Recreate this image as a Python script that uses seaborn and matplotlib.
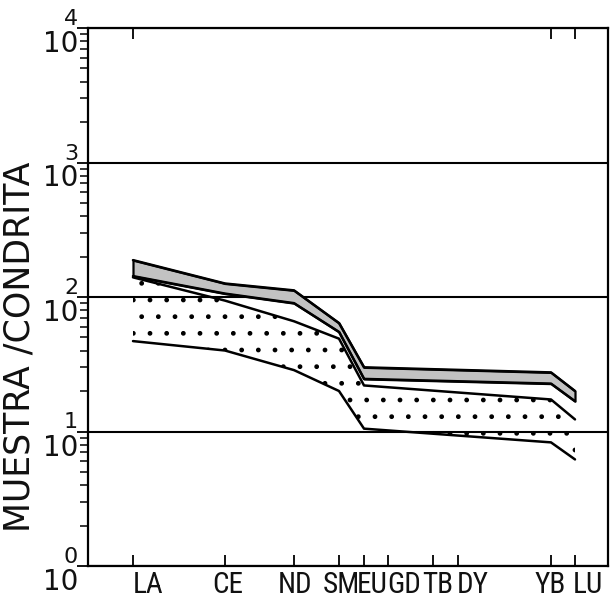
import numpy as np
import pandas as pd
import matplotlib
matplotlib.use("Agg")
import matplotlib.pyplot as plt
import matplotlib.transforms as mtransforms
from matplotlib import font_manager as fm
from matplotlib.ticker import LogLocator, NullFormatter, FixedLocator
import seaborn as sns

# ---------------- data ----------------
elements = ["LA", "CE", "ND", "SM", "EU", "GD", "TB", "DY", "YB", "LU"]
element_pos = [45, 137, 206, 251, 276, 300, 345, 370, 463, 487]   # axis scale
series_elements = ["LA", "CE", "ND", "SM", "EU", "YB", "LU"]
gray_top = [188, 126, 112, 64, 30, 27.5, 20]
gray_bottom = [143, 106, 90, 55, 24.6, 22.7, 16.8]
dot_top = [140, 94, 66, 49, 22, 17.3, 12.3]
dot_bottom = [47, 40, 28.6, 20, 10.5, 8.3, 6.2]
y_exponents = [0, 1, 2, 3, 4]
y_title = "MUESTRA /CONDRITA"
top_tick_elements = ["LA", "YB", "LU"]

# ---------------- layout ----------------
label_pos = [60, 140, 207, 253, 284, 316, 350, 385, 462, 500]

sns.set_style("white")
plt.rcParams["font.family"] = ["DejaVu Sans"]
plt.rcParams["hatch.linewidth"] = 1.0


def has_font(name):
    try:
        fm.findfont(fm.FontProperties(family=name), fallback_to_default=False)
        return True
    except Exception:
        return False


lab_stretch = "normal"
if has_font("Liberation Sans Narrow"):
    lab_family, lab_size = "Liberation Sans Narrow", 21
elif has_font("Roboto Condensed"):
    lab_family, lab_size = "Roboto Condensed", 21
else:
    try:
        p = fm.findfont(fm.FontProperties(family="DejaVu Sans",
                                          stretch="condensed"))
    except Exception:
        p = ""
    if "ondensed" in p:
        lab_family, lab_size, lab_stretch = "DejaVu Sans", 18, "condensed"
    else:
        lab_family, lab_size = "DejaVu Sans", 16

pos = dict(zip(elements, element_pos))
xs = [pos[e] for e in series_elements]

rows = []
for name, vals in [("gray_top", gray_top), ("gray_bottom", gray_bottom),
                   ("dot_top", dot_top), ("dot_bottom", dot_bottom)]:
    for e, v in zip(series_elements, vals):
        rows.append({"series": name, "element": e, "x": pos[e], "value": v})
df = pd.DataFrame(rows)

W, H = 613, 604
fig = plt.figure(figsize=(W / 100, H / 100), dpi=100)
ax_left, ax_right, ax_top, ax_bot = 88, 608, 28, 566
ax = fig.add_axes([ax_left / W, 1 - ax_bot / H, (ax_right - ax_left) / W,
                   (ax_bot - ax_top) / H])

ax.fill_between(xs, gray_bottom, gray_top, facecolor="#c2c2c2",
                edgecolor="black", linewidth=1.6, zorder=2)
ax.fill_between(xs, dot_bottom, dot_top, facecolor="none",
                edgecolor="black", linewidth=0, hatch=".", zorder=1)

sns.lineplot(data=df, x="x", y="value", units="series", estimator=None,
             sort=False, color="black", linewidth=1.8, legend=False, ax=ax,
             zorder=3)

ax.set_yscale("log")
ax.set_ylim(1, 1e4)
ax.set_xlim(0, ax_right - ax_left)
ax.set_xlabel("")
ax.set_ylabel("")

# y ticks
ax.yaxis.set_major_locator(FixedLocator([10.0 ** e for e in y_exponents]))
ax.yaxis.set_minor_locator(LogLocator(base=10, subs=np.arange(2, 10)))
ax.yaxis.set_minor_formatter(NullFormatter())
ax.tick_params(axis="y", which="major", direction="out", length=8, width=1.3,
               left=True, right=False, labelleft=False, color="black")
ax.tick_params(axis="y", which="minor", direction="out", length=6, width=1.1,
               left=True, right=False, color="black")
ax.grid(axis="y", which="major", color="black", linewidth=1.5)
ax.grid(axis="x", visible=False)

# x ticks
ax.set_xticks(element_pos)
ax.tick_params(axis="x", which="both", direction="in", length=8, width=1.3,
               bottom=True, top=False, labelbottom=False, color="black")
sec = ax.secondary_xaxis("top")
sec.set_xticks([pos[e] for e in top_tick_elements])
sec.tick_params(axis="x", direction="in", length=8, width=1.3,
                labeltop=False, color="black")
sec.spines["top"].set_visible(False)

for s in ax.spines.values():
    s.set_visible(True)
    s.set_color("black")
    s.set_linewidth(1.6)

# y tick labels: 10 with exponent
trans = mtransforms.blended_transform_factory(ax.transAxes, ax.transData)
for e in y_exponents:
    v = 10.0 ** e
    ax.annotate("10", xy=(0, v), xycoords=trans, xytext=(-10, -2),
                textcoords="offset pixels", ha="right", va="top",
                fontsize=20, color="#111111", annotation_clip=False)
    ax.annotate(str(e), xy=(0, v), xycoords=trans, xytext=(-24, -1),
                textcoords="offset pixels", ha="left", va="bottom",
                fontsize=16, color="#111111", annotation_clip=False)

# x labels
xtrans = mtransforms.blended_transform_factory(ax.transData, ax.transAxes)
for lab, lx in zip(elements, label_pos):
    ax.annotate(lab, xy=(lx, 0), xycoords=xtrans, xytext=(0, -19),
                textcoords="offset pixels", ha="center", va="center",
                fontsize=lab_size, family=lab_family, stretch=lab_stretch,
                color="#111111", annotation_clip=False)

fig.text(20 / W, 1 - 347 / H, y_title, rotation=90, ha="center",
         va="center", fontsize=25, color="#111111")

fig.savefig("out.png", dpi=100)
